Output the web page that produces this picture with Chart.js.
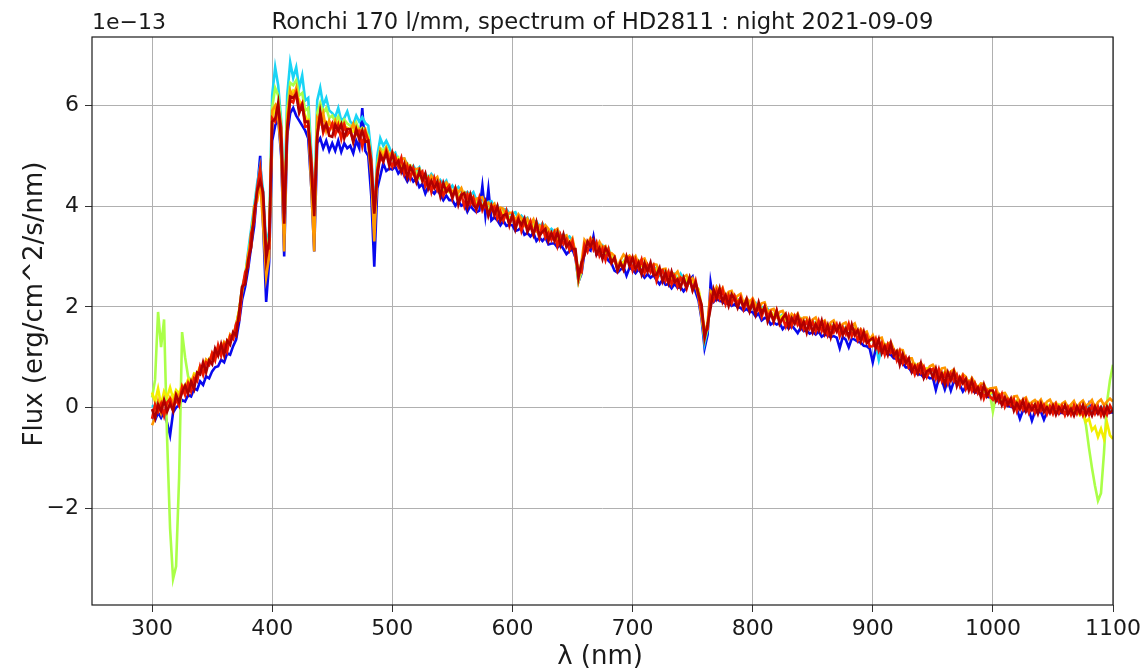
<!DOCTYPE html>
<html>
<head>
<meta charset="utf-8">
<title>Ronchi 170 l/mm, spectrum of HD2811</title>
<script src="https://cdn.jsdelivr.net/npm/chart.js@4.4.1/dist/chart.umd.min.js"></script>
<style>
  html, body { margin: 0; padding: 0; background: #ffffff; }
  canvas { display: block; }
</style>
</head>
<body>
<canvas id="spec" width="1147" height="671"></canvas>
<script>
// Wavelength sampling (nm): 300 to 1100 nm every 2.5 nm
const WL_START = 300, WL_STEP = 2.5, WL_COUNT = 321;
const WAVELENGTH = [];
for (let i = 0; i < WL_COUNT; i++) WAVELENGTH.push(WL_START + WL_STEP * i);

// Flux in units of 1e-13 erg/cm^2/s/nm, one array per exposure.
// Each row covers 50 nm (20 samples).
const FLUX_BLUE = [
  -0.18, -0.25, -0.10, -0.20, -0.08, -0.30, -0.55, -0.10, 0.00, 0.05, 0.15, 0.12, 0.25, 0.22, 0.38, 0.35, 0.52, 0.45, 0.62, 0.58,
  0.72, 0.80, 0.82, 0.95, 0.90, 1.08, 1.05, 1.22, 1.35, 1.70, 2.15, 2.40, 2.75, 3.20, 3.60, 4.30, 5.00, 3.60, 2.10, 2.90,
  5.30, 5.60, 5.75, 5.00, 3.00, 5.40, 5.85, 5.95, 5.80, 5.70, 5.60, 5.50, 5.35, 4.40, 3.10, 5.25, 5.35, 5.15, 5.30, 5.10,
  5.25, 5.10, 5.30, 5.08, 5.25, 5.15, 5.20, 5.05, 5.30, 5.15, 5.95, 5.10, 5.00, 4.20, 2.80, 4.35, 4.60, 4.85, 4.70, 4.75,
  4.73, 4.79, 4.65, 4.73, 4.61, 4.49, 4.60, 4.49, 4.55, 4.38, 4.44, 4.25, 4.39, 4.31, 4.25, 4.34, 4.23, 4.12, 4.21, 4.12,
  4.12, 4.01, 4.10, 4.01, 4.05, 3.89, 4.01, 3.93, 3.88, 3.91, 4.40, 3.82, 4.34, 3.72, 3.78, 3.72, 3.62, 3.71, 3.61, 3.63,
  3.62, 3.51, 3.53, 3.58, 3.43, 3.47, 3.40, 3.47, 3.31, 3.38, 3.31, 3.38, 3.24, 3.26, 3.26, 3.18, 3.24, 3.15, 3.05, 3.11,
  3.14, 2.98, 2.50, 2.66, 3.08, 3.16, 3.12, 3.40, 3.04, 3.06, 2.98, 3.02, 2.92, 2.86, 2.72, 2.68, 2.74, 2.80, 2.62, 2.78,
  2.74, 2.67, 2.75, 2.66, 2.58, 2.65, 2.58, 2.63, 2.53, 2.45, 2.54, 2.44, 2.45, 2.37, 2.46, 2.38, 2.39, 2.31, 2.39, 2.53,
  2.60, 2.30, 2.12, 1.75, 1.18, 1.45, 2.48, 2.10, 2.16, 2.12, 2.10, 2.06, 2.11, 2.02, 2.05, 2.00, 1.98, 1.92, 1.96, 1.90,
  1.90, 1.81, 1.87, 1.73, 1.78, 1.77, 1.65, 1.69, 1.65, 1.68, 1.56, 1.63, 1.57, 1.63, 1.56, 1.48, 1.59, 1.52, 1.53, 1.47,
  1.50, 1.45, 1.51, 1.41, 1.45, 1.43, 1.40, 1.42, 1.39, 1.18, 1.40, 1.35, 1.20, 1.37, 1.35, 1.31, 1.29, 1.23, 1.22, 1.17,
  0.90, 1.17, 1.15, 1.10, 1.08, 1.06, 1.05, 0.98, 0.97, 0.90, 0.88, 0.80, 0.80, 0.70, 0.72, 0.66, 0.66, 0.60, 0.63, 0.58,
  0.60, 0.35, 0.58, 0.55, 0.36, 0.55, 0.34, 0.52, 0.48, 0.45, 0.32, 0.42, 0.38, 0.36, 0.30, 0.30, 0.26, 0.24, 0.22, 0.20,
  0.18, 0.14, 0.12, 0.08, 0.06, 0.03, 0.02, -0.01, -0.03, -0.22, -0.06, -0.08, -0.05, -0.26, -0.08, -0.10, -0.08, -0.24, -0.09, -0.08,
  -0.10, -0.08, -0.12, -0.09, -0.13, -0.10, -0.11, -0.08, -0.12, -0.09, -0.11, -0.08, 0.08, -0.10, -0.12, -0.09, -0.11, -0.10, -0.12, -0.09,
  -0.10
];

const FLUX_CYAN = [
  0.05, -0.02, 0.12, 0.00, 0.10, 0.04, 0.15, 0.08, 0.20, 0.16, 0.34, 0.30, 0.45, 0.42, 0.60, 0.58, 0.76, 0.72, 0.90, 0.86,
  1.04, 1.00, 1.18, 1.12, 1.28, 1.24, 1.42, 1.40, 1.65, 1.92, 2.40, 2.62, 3.10, 3.55, 4.00, 4.45, 4.80, 4.30, 3.25, 3.50,
  6.20, 6.76, 6.40, 5.70, 3.95, 6.20, 6.86, 6.55, 6.76, 6.35, 6.60, 6.10, 6.15, 5.10, 3.95, 6.10, 6.35, 6.00, 6.15, 5.90,
  5.85, 5.77, 5.95, 5.70, 5.75, 5.88, 5.68, 5.62, 5.80, 5.68, 5.77, 5.65, 5.60, 5.05, 3.85, 5.00, 5.35, 5.20, 5.30, 5.17,
  5.01, 5.06, 4.89, 4.94, 4.95, 4.81, 4.72, 4.80, 4.70, 4.77, 4.58, 4.65, 4.55, 4.64, 4.56, 4.42, 4.52, 4.44, 4.51, 4.33,
  4.41, 4.30, 4.38, 4.29, 4.20, 4.28, 4.22, 4.28, 4.12, 4.16, 4.16, 4.02, 4.09, 4.10, 3.97, 4.01, 3.86, 3.93, 3.94, 3.85,
  3.86, 3.88, 3.74, 3.81, 3.74, 3.77, 3.60, 3.70, 3.70, 3.58, 3.66, 3.57, 3.49, 3.55, 3.49, 3.54, 3.41, 3.44, 3.36, 3.40,
  3.32, 3.05, 2.58, 2.76, 3.25, 3.27, 3.32, 3.22, 3.26, 3.16, 3.22, 3.10, 3.16, 2.98, 2.96, 2.78, 2.90, 2.88, 3.00, 2.92,
  2.95, 2.86, 2.90, 2.92, 2.76, 2.83, 2.77, 2.81, 2.72, 2.63, 2.72, 2.73, 2.60, 2.63, 2.66, 2.54, 2.66, 2.56, 2.51, 2.55,
  2.54, 2.42, 2.30, 1.85, 1.28, 1.55, 2.20, 2.30, 2.34, 2.25, 2.30, 2.21, 2.27, 2.18, 2.22, 2.13, 2.17, 2.08, 2.13, 2.04,
  2.06, 2.08, 1.95, 2.00, 1.93, 1.96, 1.87, 1.79, 1.88, 1.80, 1.85, 1.75, 1.79, 1.80, 1.67, 1.74, 1.77, 1.69, 1.72, 1.64,
  1.72, 1.64, 1.70, 1.61, 1.67, 1.59, 1.65, 1.57, 1.63, 1.55, 1.61, 1.55, 1.62, 1.53, 1.59, 1.49, 1.52, 1.41, 1.45, 1.34,
  1.36, 1.25, 0.95, 1.21, 1.24, 1.16, 1.20, 1.09, 1.11, 1.00, 1.03, 0.91, 0.92, 0.82, 0.85, 0.76, 0.80, 0.72, 0.76, 0.69,
  0.74, 0.66, 0.71, 0.64, 0.69, 0.61, 0.66, 0.58, 0.62, 0.53, 0.57, 0.48, 0.51, 0.42, 0.45, 0.36, 0.40, 0.31, 0.35, 0.27,
  0.30, 0.22, 0.25, 0.16, 0.19, 0.11, 0.15, 0.07, 0.12, 0.04, 0.09, 0.02, 0.07, 0.00, 0.05, -0.01, 0.04, -0.02, 0.03, -0.02,
  0.02, -0.04, 0.03, -0.03, 0.02, -0.05, 0.03, -0.04, 0.02, -0.05, 0.03, -0.04, 0.02, -0.05, 0.03, -0.04, 0.02, -0.05, 0.03, -0.04,
  0.00
];

const FLUX_GREENYELLOW = [
  0.20, 0.55, 1.90, 1.20, 1.75, -0.60, -2.40, -3.40, -3.15, -1.40, 1.50, 1.00, 0.62, 0.50, 0.64, 0.66, 0.78, 0.82, 0.92, 0.96,
  1.04, 1.06, 1.16, 1.15, 1.27, 1.28, 1.40, 1.43, 1.62, 1.90, 2.30, 2.62, 2.98, 3.45, 3.85, 4.35, 4.50, 3.90, 3.05, 3.40,
  5.95, 6.35, 6.20, 5.60, 3.70, 5.90, 6.45, 6.40, 6.50, 6.20, 6.25, 5.90, 5.95, 4.90, 3.80, 5.85, 6.05, 5.85, 5.95, 5.75,
  5.80, 5.68, 5.78, 5.62, 5.72, 5.64, 5.60, 5.55, 5.66, 5.50, 5.56, 5.52, 5.40, 4.85, 3.65, 4.80, 5.15, 5.10, 5.18, 5.02,
  5.00, 4.92, 4.97, 4.80, 4.82, 4.85, 4.72, 4.71, 4.69, 4.56, 4.64, 4.55, 4.59, 4.48, 4.49, 4.48, 4.33, 4.41, 4.41, 4.31,
  4.30, 4.32, 4.17, 4.25, 4.28, 4.14, 4.17, 4.05, 4.12, 4.14, 3.99, 4.03, 4.06, 3.95, 3.99, 3.84, 3.91, 3.84, 3.87, 3.76,
  3.81, 3.71, 3.78, 3.70, 3.62, 3.69, 3.63, 3.68, 3.53, 3.57, 3.57, 3.48, 3.52, 3.37, 3.42, 3.47, 3.37, 3.39, 3.27, 3.30,
  3.30, 3.02, 2.50, 2.70, 3.25, 3.24, 3.31, 3.20, 3.24, 3.14, 3.20, 3.08, 3.14, 2.96, 2.94, 2.74, 2.86, 2.86, 2.98, 2.90,
  2.95, 2.86, 2.92, 2.82, 2.87, 2.77, 2.82, 2.72, 2.76, 2.67, 2.72, 2.62, 2.67, 2.57, 2.63, 2.54, 2.59, 2.50, 2.55, 2.47,
  2.52, 2.42, 2.30, 1.90, 1.35, 1.58, 2.15, 2.26, 2.32, 2.24, 2.30, 2.20, 2.26, 2.17, 2.21, 2.12, 2.16, 2.07, 2.12, 2.03,
  2.09, 1.99, 2.03, 1.94, 1.99, 1.88, 1.91, 1.82, 1.88, 1.78, 1.83, 1.75, 1.81, 1.72, 1.78, 1.70, 1.77, 1.68, 1.73, 1.65,
  1.71, 1.63, 1.69, 1.60, 1.66, 1.58, 1.64, 1.56, 1.62, 1.54, 1.60, 1.54, 1.61, 1.52, 1.58, 1.48, 1.51, 1.40, 1.44, 1.33,
  1.37, 1.27, 1.32, 1.22, 1.26, 1.17, 1.22, 1.10, 1.13, 1.02, 1.05, 0.92, 0.94, 0.83, 0.87, 0.77, 0.82, 0.73, 0.78, 0.70,
  0.76, 0.67, 0.73, 0.65, 0.71, 0.62, 0.68, 0.59, 0.64, 0.54, 0.59, 0.49, 0.53, 0.43, 0.47, 0.37, 0.42, 0.32, 0.37, 0.28,
  -0.08, 0.23, 0.27, 0.17, 0.21, 0.12, 0.17, 0.08, 0.14, 0.05, 0.11, 0.03, 0.09, 0.01, 0.07, 0.00, 0.07, -0.01, 0.06, 0.00,
  0.05, -0.02, 0.06, -0.01, 0.04, -0.03, 0.05, -0.02, 0.02, -0.05, -0.10, -0.35, -0.80, -1.20, -1.55, -1.85, -1.70, -0.90, 0.10, 0.55,
  0.85
];

const FLUX_YELLOW = [
  0.30, 0.12, 0.38, 0.05, 0.32, 0.20, 0.40, 0.18, 0.35, 0.28, 0.45, 0.40, 0.56, 0.50, 0.68, 0.66, 0.82, 0.78, 0.95, 0.92,
  1.05, 1.08, 1.20, 1.16, 1.30, 1.28, 1.42, 1.45, 1.62, 1.95, 2.35, 2.62, 3.00, 3.40, 3.90, 4.20, 4.60, 4.00, 2.90, 3.30,
  5.75, 5.95, 6.05, 5.30, 3.45, 5.75, 6.20, 6.30, 6.25, 6.10, 6.00, 5.80, 5.68, 4.70, 3.60, 5.60, 5.85, 5.70, 5.68, 5.62,
  5.65, 5.58, 5.68, 5.55, 5.58, 5.56, 5.52, 5.48, 5.58, 5.44, 5.48, 5.45, 5.35, 4.75, 3.55, 4.70, 5.00, 5.08, 5.06, 5.02,
  4.96, 4.86, 4.94, 4.83, 4.70, 4.79, 4.81, 4.63, 4.62, 4.65, 4.52, 4.60, 4.49, 4.50, 4.41, 4.47, 4.41, 4.29, 4.38, 4.28,
  4.29, 4.30, 4.15, 4.23, 4.26, 4.11, 4.13, 4.18, 4.03, 4.08, 4.01, 4.06, 3.92, 3.99, 3.92, 3.84, 3.93, 3.83, 3.82, 3.72,
  3.79, 3.70, 3.76, 3.62, 3.68, 3.68, 3.58, 3.61, 3.51, 3.59, 3.50, 3.45, 3.51, 3.42, 3.47, 3.33, 3.39, 3.38, 3.27, 3.28,
  3.28, 3.10, 2.68, 2.80, 3.22, 3.26, 3.30, 3.20, 3.22, 3.14, 3.18, 3.09, 3.12, 2.98, 2.92, 2.80, 2.88, 2.88, 2.98, 2.90,
  2.93, 2.86, 2.91, 2.82, 2.85, 2.77, 2.81, 2.72, 2.74, 2.67, 2.71, 2.62, 2.65, 2.57, 2.62, 2.54, 2.58, 2.50, 2.54, 2.47,
  2.51, 2.42, 2.35, 2.00, 1.52, 1.65, 2.18, 2.25, 2.32, 2.24, 2.28, 2.20, 2.25, 2.17, 2.20, 2.12, 2.15, 2.07, 2.11, 2.03,
  2.08, 1.99, 2.02, 1.94, 1.98, 1.88, 1.90, 1.82, 1.87, 1.78, 1.82, 1.75, 1.80, 1.72, 1.77, 1.70, 1.76, 1.68, 1.72, 1.65,
  1.70, 1.63, 1.68, 1.60, 1.65, 1.58, 1.63, 1.56, 1.61, 1.54, 1.59, 1.54, 1.60, 1.52, 1.57, 1.48, 1.50, 1.40, 1.43, 1.33,
  1.36, 1.27, 1.31, 1.22, 1.25, 1.17, 1.21, 1.10, 1.12, 1.02, 1.04, 0.92, 0.93, 0.83, 0.86, 0.77, 0.81, 0.73, 0.77, 0.70,
  0.75, 0.67, 0.72, 0.65, 0.70, 0.62, 0.67, 0.59, 0.63, 0.54, 0.58, 0.49, 0.52, 0.43, 0.46, 0.37, 0.41, 0.32, 0.36, 0.28,
  0.32, 0.23, 0.26, 0.17, 0.20, 0.12, 0.16, 0.08, 0.13, 0.05, 0.10, 0.03, 0.08, 0.01, 0.06, 0.00, 0.06, -0.01, 0.05, 0.00,
  0.04, -0.02, 0.05, -0.01, 0.03, -0.04, 0.02, -0.08, -0.02, -0.15, -0.10, -0.28, -0.22, -0.45, -0.38, -0.58, -0.42, -0.62, -0.30, -0.55,
  -0.62
];

const FLUX_ORANGE = [
  -0.35, -0.20, 0.12, -0.10, 0.15, 0.05, 0.20, 0.10, 0.28, 0.22, 0.40, 0.32, 0.50, 0.45, 0.64, 0.58, 0.80, 0.72, 0.95, 0.88,
  1.08, 1.00, 1.20, 1.12, 1.30, 1.22, 1.45, 1.38, 1.65, 1.90, 2.40, 2.50, 3.05, 3.20, 4.00, 4.10, 4.50, 3.60, 2.60, 3.00,
  5.90, 6.00, 5.75, 5.10, 3.10, 5.70, 6.30, 6.15, 6.35, 5.95, 6.05, 5.65, 5.70, 4.40, 3.10, 5.75, 5.65, 5.85, 5.50, 5.70,
  5.55, 5.70, 5.50, 5.60, 5.65, 5.42, 5.50, 5.64, 5.43, 5.53, 5.43, 5.52, 5.20, 4.60, 3.30, 4.75, 5.10, 4.95, 5.15, 5.00,
  5.08, 4.96, 4.87, 4.94, 4.95, 4.79, 4.70, 4.74, 4.74, 4.75, 4.59, 4.61, 4.45, 4.60, 4.52, 4.58, 4.38, 4.39, 4.47, 4.39,
  4.26, 4.37, 4.27, 4.36, 4.20, 4.23, 4.25, 4.06, 4.15, 4.16, 4.18, 4.02, 4.07, 3.99, 4.05, 3.85, 3.97, 3.95, 3.79, 3.87,
  3.87, 3.71, 3.84, 3.76, 3.63, 3.75, 3.64, 3.74, 3.56, 3.62, 3.52, 3.62, 3.55, 3.40, 3.51, 3.55, 3.37, 3.39, 3.42, 3.25,
  3.36, 3.06, 2.55, 2.89, 3.33, 3.25, 3.37, 3.28, 3.15, 3.29, 3.18, 3.21, 3.06, 3.07, 3.01, 2.79, 2.93, 3.04, 2.97, 3.02,
  2.94, 3.01, 2.85, 2.93, 2.96, 2.82, 2.74, 2.85, 2.84, 2.69, 2.75, 2.76, 2.57, 2.69, 2.63, 2.70, 2.53, 2.59, 2.63, 2.50,
  2.57, 2.43, 2.20, 1.80, 1.40, 1.70, 2.31, 2.24, 2.40, 2.30, 2.38, 2.19, 2.30, 2.32, 2.16, 2.22, 2.26, 2.07, 2.17, 2.10,
  2.17, 2.05, 1.95, 2.07, 2.09, 1.90, 1.94, 1.96, 1.81, 1.90, 1.92, 1.79, 1.73, 1.86, 1.80, 1.87, 1.71, 1.79, 1.79, 1.67,
  1.75, 1.79, 1.63, 1.69, 1.73, 1.57, 1.69, 1.73, 1.60, 1.54, 1.66, 1.69, 1.56, 1.62, 1.67, 1.49, 1.56, 1.48, 1.51, 1.35,
  1.44, 1.29, 1.37, 1.39, 1.19, 1.27, 1.30, 1.16, 1.05, 1.15, 1.14, 0.95, 0.98, 0.98, 0.81, 0.86, 0.89, 0.80, 0.71, 0.82,
  0.85, 0.75, 0.67, 0.78, 0.79, 0.64, 0.72, 0.76, 0.62, 0.54, 0.66, 0.61, 0.47, 0.59, 0.49, 0.39, 0.48, 0.47, 0.34, 0.38,
  0.39, 0.40, 0.22, 0.28, 0.29, 0.19, 0.11, 0.22, 0.23, 0.10, 0.16, 0.20, 0.05, 0.11, 0.15, 0.08, 0.16, 0.02, 0.12, 0.16,
  0.04, 0.10, -0.03, 0.08, 0.12, 0.00, 0.06, 0.13, -0.02, 0.09, 0.14, 0.03, 0.08, 0.15, 0.00, 0.11, 0.16, 0.05, 0.12, 0.18,
  0.12
];

const FLUX_RED = [
  -0.22, 0.06, -0.08, 0.08, -0.16, 0.10, 0.17, -0.02, 0.16, 0.04, 0.41, 0.25, 0.48, 0.32, 0.58, 0.52, 0.82, 0.65, 0.90, 0.85,
  1.08, 0.94, 1.24, 1.03, 1.25, 1.11, 1.42, 1.36, 1.67, 1.73, 2.33, 2.69, 2.80, 3.46, 3.69, 4.35, 4.75, 4.14, 3.15, 3.16,
  5.75, 5.68, 5.98, 5.56, 3.85, 5.50, 6.11, 6.06, 6.25, 5.92, 6.04, 5.58, 5.59, 4.96, 4.05, 5.40, 5.84, 5.46, 5.63, 5.49,
  5.64, 5.42, 5.61, 5.34, 5.61, 5.42, 5.50, 5.30, 5.49, 5.50, 5.19, 5.48, 5.31, 4.92, 3.90, 4.72, 4.98, 4.88, 5.10, 4.91,
  4.78, 4.98, 4.79, 4.96, 4.64, 4.80, 4.56, 4.76, 4.54, 4.63, 4.69, 4.40, 4.55, 4.29, 4.55, 4.32, 4.45, 4.21, 4.34, 4.41,
  4.15, 4.35, 4.10, 4.23, 4.00, 4.23, 4.04, 4.17, 3.93, 4.17, 3.92, 4.05, 3.82, 3.95, 3.99, 3.75, 3.89, 3.71, 3.90, 3.62,
  3.84, 3.63, 3.76, 3.51, 3.71, 3.55, 3.70, 3.45, 3.59, 3.37, 3.62, 3.37, 3.47, 3.33, 3.48, 3.21, 3.43, 3.25, 3.34, 3.13,
  3.30, 2.97, 2.71, 2.69, 3.23, 3.10, 3.32, 3.14, 3.28, 3.02, 3.16, 2.93, 3.14, 2.87, 2.97, 2.72, 2.88, 2.74, 2.96, 2.98,
  2.73, 2.94, 2.77, 2.94, 2.67, 2.83, 2.69, 2.82, 2.52, 2.71, 2.73, 2.52, 2.69, 2.45, 2.60, 2.40, 2.58, 2.52, 2.36, 2.57,
  2.33, 2.52, 2.22, 1.90, 1.50, 1.56, 2.22, 2.12, 2.32, 2.16, 2.34, 2.06, 2.23, 2.07, 2.22, 2.06, 2.19, 1.95, 2.09, 1.93,
  2.12, 1.89, 2.00, 1.80, 2.00, 1.82, 1.90, 1.70, 1.93, 1.70, 1.78, 1.61, 1.82, 1.62, 1.81, 1.64, 1.74, 1.56, 1.72, 1.57,
  1.70, 1.51, 1.72, 1.52, 1.67, 1.44, 1.61, 1.50, 1.65, 1.42, 1.59, 1.46, 1.66, 1.42, 1.53, 1.34, 1.52, 1.32, 1.43, 1.21,
  1.22, 1.37, 1.13, 1.28, 1.05, 1.25, 1.09, 1.14, 0.94, 1.12, 0.88, 1.00, 0.79, 0.85, 0.66, 0.83, 0.69, 0.81, 0.61, 0.74,
  0.77, 0.57, 0.76, 0.53, 0.68, 0.48, 0.67, 0.53, 0.65, 0.44, 0.62, 0.37, 0.50, 0.33, 0.48, 0.29, 0.41, 0.18, 0.34, 0.22,
  0.16, 0.31, 0.12, 0.27, 0.02, 0.16, 0.04, 0.16, -0.07, 0.11, -0.04, 0.13, -0.10, 0.05, -0.10, 0.08, -0.06, 0.05, -0.13, 0.03,
  -0.12, 0.06, -0.11, 0.03, -0.15, 0.01, -0.14, 0.04, -0.12, 0.03, -0.15, 0.00, -0.14, 0.04, -0.12, 0.02, -0.16, 0.00, -0.14, 0.04,
  -0.07
];

const FLUX_DARKRED = [
  -0.03, -0.21, 0.06, -0.07, 0.15, -0.08, 0.08, -0.07, 0.25, 0.11, 0.30, 0.44, 0.28, 0.52, 0.37, 0.70, 0.66, 0.90, 0.70, 0.94,
  0.86, 1.17, 1.03, 1.26, 1.04, 1.33, 1.25, 1.50, 1.43, 1.90, 2.40, 2.45, 2.93, 3.18, 3.85, 4.30, 4.50, 4.28, 2.95, 3.33,
  5.68, 5.73, 6.05, 5.28, 3.65, 5.50, 6.18, 6.15, 6.23, 5.85, 6.00, 5.68, 5.68, 4.73, 3.80, 5.38, 5.87, 5.52, 5.63, 5.40,
  5.38, 5.62, 5.50, 5.63, 5.35, 5.53, 5.53, 5.27, 5.53, 5.33, 5.50, 5.28, 5.30, 4.73, 3.85, 4.58, 5.03, 4.90, 5.05, 4.80,
  5.05, 4.81, 4.90, 4.68, 4.84, 4.57, 4.78, 4.67, 4.48, 4.70, 4.50, 4.65, 4.35, 4.50, 4.36, 4.48, 4.20, 4.46, 4.28, 4.35,
  4.18, 4.34, 4.03, 4.22, 4.26, 3.99, 4.23, 4.02, 3.95, 4.09, 3.96, 4.10, 3.81, 4.01, 3.82, 4.00, 3.71, 3.82, 3.84, 3.64,
  3.82, 3.54, 3.74, 3.63, 3.76, 3.49, 3.61, 3.43, 3.68, 3.42, 3.49, 3.55, 3.31, 3.47, 3.31, 3.48, 3.23, 3.44, 3.19, 3.28,
  3.15, 3.15, 2.58, 2.88, 3.03, 3.30, 3.20, 3.33, 3.04, 3.17, 2.95, 3.17, 3.07, 2.88, 2.98, 2.73, 2.88, 2.74, 3.00, 2.81,
  2.98, 2.74, 2.88, 2.65, 2.87, 2.70, 2.88, 2.63, 2.64, 2.78, 2.51, 2.68, 2.47, 2.70, 2.49, 2.55, 2.38, 2.58, 2.39, 2.58,
  2.33, 2.48, 2.25, 2.05, 1.38, 1.65, 1.98, 2.35, 2.17, 2.37, 2.10, 2.23, 2.02, 2.25, 2.15, 1.98, 2.15, 2.00, 2.16, 1.91,
  2.08, 1.85, 2.09, 1.87, 2.00, 1.71, 1.87, 1.73, 1.92, 1.66, 1.77, 1.86, 1.60, 1.78, 1.67, 1.83, 1.58, 1.71, 1.49, 1.73,
  1.50, 1.66, 1.53, 1.73, 1.47, 1.64, 1.40, 1.64, 1.51, 1.65, 1.44, 1.57, 1.40, 1.65, 1.44, 1.54, 1.32, 1.51, 1.28, 1.34,
  1.38, 1.18, 1.36, 1.08, 1.22, 1.05, 1.28, 1.03, 1.12, 0.85, 1.06, 0.88, 0.98, 0.71, 0.83, 0.68, 0.88, 0.59, 0.72, 0.76,
  0.60, 0.78, 0.54, 0.68, 0.47, 0.70, 0.54, 0.72, 0.43, 0.60, 0.48, 0.57, 0.34, 0.54, 0.31, 0.40, 0.21, 0.45, 0.23, 0.34,
  0.34, 0.13, 0.24, 0.05, 0.20, 0.06, 0.18, -0.06, 0.09, -0.03, 0.14, -0.07, 0.06, -0.05, 0.06, -0.12, 0.08, -0.09, 0.01, -0.11,
  0.04, -0.14, 0.01, -0.09, 0.05, -0.13, -0.02, -0.16, 0.02, -0.11, 0.05, -0.14, -0.02, -0.16, 0.02, -0.12, 0.00, -0.16, 0.02, -0.10,
  -0.05
];

// Exposure colours (jet colormap, first to last)
const SERIES_COLORS = ['#0808ee', '#1ad4f5', '#aaff48', '#f2ee00', '#ff9800', '#ee1800', '#b00000'];
const SERIES_VALUES = [FLUX_BLUE, FLUX_CYAN, FLUX_GREENYELLOW, FLUX_YELLOW, FLUX_ORANGE, FLUX_RED, FLUX_DARKRED];

// Axis ticks
const X_TICKS = [300, 400, 500, 600, 700, 800, 900, 1000, 1100];
const Y_TICKS = [-2, 0, 2, 4, 6];

const TITLE = 'Ronchi 170 l/mm, spectrum of HD2811 : night 2021-09-09';
const X_LABEL = '\u03bb (nm)';
const Y_LABEL = 'Flux (erg/cm^2/s/nm)';
const OFFSET_TEXT = '1e\u221213';

const FONT = 'DejaVu Sans';
Chart.defaults.font.family = FONT;

const datasets = SERIES_VALUES.map((vals, i) => ({
  label: 'exposure ' + (i + 1),
  data: WAVELENGTH.map((w, j) => ({ x: w, y: vals[j] })),
  borderColor: SERIES_COLORS[i],
  backgroundColor: SERIES_COLORS[i],
  borderWidth: 2.6,
  pointRadius: 0,
  tension: 0,
  fill: false,
  // later exposures are painted over earlier ones
  order: SERIES_VALUES.length - i
}));

// Frame, title, axis labels and the exponent text
const decorations = {
  id: 'decorations',
  afterDraw(chart) {
    const { ctx, chartArea: a } = chart;
    ctx.save();
    ctx.strokeStyle = '#1a1a1a';
    ctx.lineWidth = 1.2;
    ctx.strokeRect(a.left, a.top, a.right - a.left, a.bottom - a.top);

    ctx.fillStyle = '#1a1a1a';
    ctx.textBaseline = 'alphabetic';

    ctx.font = '22.7px "' + FONT + '"';
    ctx.textAlign = 'center';
    ctx.fillText(TITLE, (a.left + a.right) / 2, 29);

    ctx.font = '22px "' + FONT + '"';
    ctx.textAlign = 'left';
    ctx.fillText(OFFSET_TEXT, a.left, 29);

    ctx.font = '26px "' + FONT + '"';
    ctx.textAlign = 'center';
    ctx.fillText(X_LABEL, 600, 664);

    ctx.translate(35, 304);
    ctx.rotate(-Math.PI / 2);
    ctx.textBaseline = 'middle';
    ctx.fillText(Y_LABEL, 0, 0);
    ctx.restore();
  }
};

new Chart(document.getElementById('spec'), {
  type: 'line',
  data: { datasets },
  options: {
    responsive: false,
    animation: false,
    events: [],
    layout: { padding: { top: 37, right: 34, left: 0, bottom: 0 } },
    plugins: {
      legend: { display: false },
      tooltip: { enabled: false },
      title: { display: false }
    },
    scales: {
      x: {
        type: 'linear',
        min: 250,
        max: 1100,
        afterBuildTicks: s => { s.ticks = X_TICKS.map(v => ({ value: v })); },
        afterFit: s => { s.height = 66; },
        border: { display: false },
        grid: { color: '#b0b0b0', lineWidth: 1, tickLength: 7, tickColor: '#333333' },
        ticks: {
          color: '#1a1a1a',
          font: { size: 22 },
          padding: 4,
          maxRotation: 0,
          autoSkip: false,
          callback: v => String(v)
        }
      },
      y: {
        type: 'linear',
        min: -3.92,
        max: 7.36,
        afterBuildTicks: s => { s.ticks = Y_TICKS.map(v => ({ value: v })); },
        afterFit: s => { s.width = 92; },
        border: { display: false },
        grid: { color: '#b0b0b0', lineWidth: 1, tickLength: 7, tickColor: '#333333' },
        ticks: {
          color: '#1a1a1a',
          font: { size: 22 },
          padding: 6,
          autoSkip: false,
          callback: v => (v < 0 ? '\u2212' + Math.abs(v) : String(v))
        }
      }
    }
  },
  plugins: [decorations]
});
</script>
</body>
</html>
